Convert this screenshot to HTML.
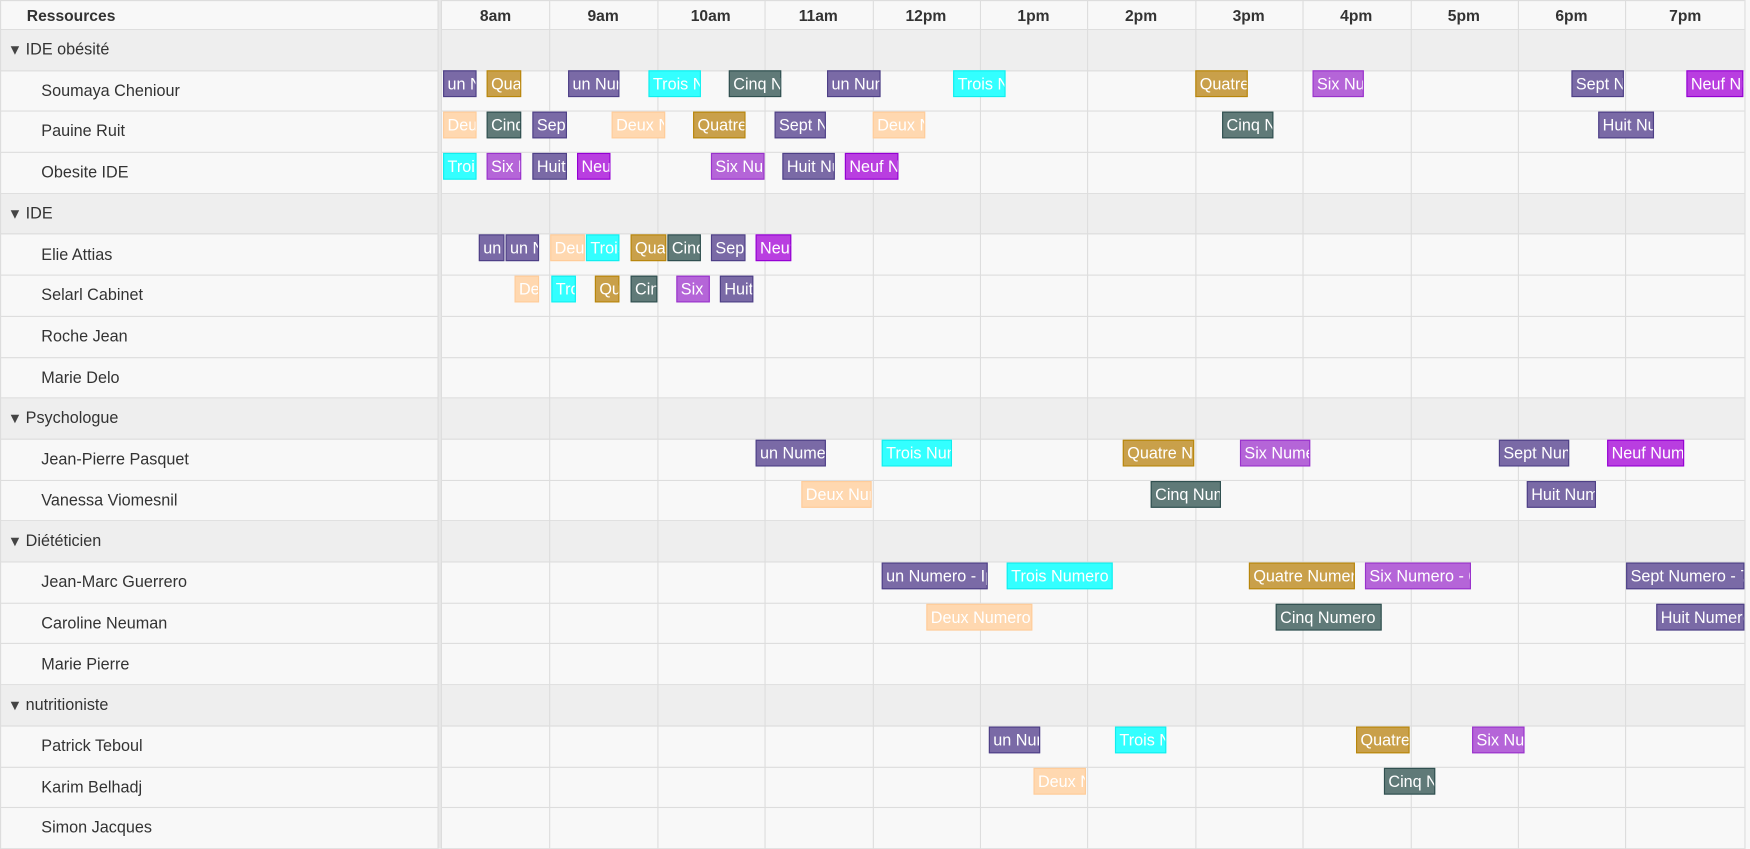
<!DOCTYPE html>
<html><head><meta charset="utf-8"><style>
html,body{margin:0;padding:0;background:#f8f8f8;width:1750px;height:849px;overflow:hidden}
#w{position:absolute;left:0;top:0;width:1568px;height:761px;transform:scale(1.11607);transform-origin:0 0;font-family:"Liberation Sans",Arial,sans-serif;color:#333}
.r{position:absolute;left:0;width:1563px;height:36.7px;border-bottom:1px solid #ddd;box-sizing:border-box}
.g{background:#eee}
.lt{position:absolute;font-size:14.5px;line-height:36px}
.tri{position:absolute;left:7px;font-size:13px;line-height:36px;color:#444}
.vl{position:absolute;top:0;width:1px;height:761px;background:#ddd}
.h{position:absolute;top:0;font-weight:bold;font-size:14px;line-height:28px;text-align:center;width:96px}
.e{position:absolute;height:24px;box-sizing:border-box;border:1px solid;color:#fff;overflow:hidden;white-space:nowrap;font-size:14.5px;line-height:24px;padding-left:3px}
.u{background:#7a6aa6;border-color:#4d3f86}
.d{background:#ffd8b0;border-color:#ffcc99}
.t{background:#3ff;border-color:#1ee}
.q{background:#c9a04a;border-color:#b8860b}
.c{background:#607a78;border-color:#2f4f4f}
.s{background:#b565d8;border-color:#9932cc}
.n{background:#b93ee0;border-color:#9400d3}
</style></head><body><div id="w">
<div style="position:absolute;left:0;top:0;width:1563px;height:27px;border-top:1px solid #ddd;border-bottom:1px solid #ddd;box-sizing:border-box"></div>
<div class="r g" style="top:27px"></div>
<div class="r" style="top:63.7px"></div>
<div class="r" style="top:100.4px"></div>
<div class="r" style="top:137.1px"></div>
<div class="r g" style="top:173.8px"></div>
<div class="r" style="top:210.5px"></div>
<div class="r" style="top:247.2px"></div>
<div class="r" style="top:283.9px"></div>
<div class="r" style="top:320.6px"></div>
<div class="r g" style="top:357.3px"></div>
<div class="r" style="top:394px"></div>
<div class="r" style="top:430.7px"></div>
<div class="r g" style="top:467.4px"></div>
<div class="r" style="top:504.1px"></div>
<div class="r" style="top:540.8px"></div>
<div class="r" style="top:577.5px"></div>
<div class="r g" style="top:614.2px"></div>
<div class="r" style="top:650.9px"></div>
<div class="r" style="top:687.6px"></div>
<div class="r" style="top:724.3px"></div>
<div style="position:absolute;left:392px;top:0;width:4px;height:761px;background:#e8e8e8;border-left:1px solid #ddd;border-right:1px solid #ddd;box-sizing:border-box"></div>
<div style="position:absolute;left:0;top:0;width:1px;height:761px;background:#ddd"></div>
<div style="position:absolute;left:1563px;top:0;width:1px;height:761px;background:#ddd"></div>
<div class="vl" style="left:492.4px"></div><div class="vl" style="left:588.8px"></div><div class="vl" style="left:685.2px"></div><div class="vl" style="left:781.6px"></div><div class="vl" style="left:878px"></div><div class="vl" style="left:974.4px"></div><div class="vl" style="left:1070.8px"></div><div class="vl" style="left:1167.2px"></div><div class="vl" style="left:1263.6px"></div><div class="vl" style="left:1360px"></div><div class="vl" style="left:1456.4px"></div>
<div class="h" style="left:24px;width:auto;text-align:left">Ressources</div>
<div class="h" style="left:396px">8am</div><div class="h" style="left:492.4px">9am</div><div class="h" style="left:588.8px">10am</div><div class="h" style="left:685.2px">11am</div><div class="h" style="left:781.6px">12pm</div><div class="h" style="left:878px">1pm</div><div class="h" style="left:974.4px">2pm</div><div class="h" style="left:1070.8px">3pm</div><div class="h" style="left:1167.2px">4pm</div><div class="h" style="left:1263.6px">5pm</div><div class="h" style="left:1360px">6pm</div><div class="h" style="left:1462px">7pm</div>
<div class="tri" style="top:27px">▼</div><div class="lt" style="left:23px;top:27px">IDE obésité</div>
<div class="lt" style="left:37px;top:63.7px">Soumaya Cheniour</div>
<div class="lt" style="left:37px;top:100.4px">Pauine Ruit</div>
<div class="lt" style="left:37px;top:137.1px">Obesite IDE</div>
<div class="tri" style="top:173.8px">▼</div><div class="lt" style="left:23px;top:173.8px">IDE</div>
<div class="lt" style="left:37px;top:210.5px">Elie Attias</div>
<div class="lt" style="left:37px;top:247.2px">Selarl Cabinet</div>
<div class="lt" style="left:37px;top:283.9px">Roche Jean</div>
<div class="lt" style="left:37px;top:320.6px">Marie Delo</div>
<div class="tri" style="top:357.3px">▼</div><div class="lt" style="left:23px;top:357.3px">Psychologue</div>
<div class="lt" style="left:37px;top:394px">Jean-Pierre Pasquet</div>
<div class="lt" style="left:37px;top:430.7px">Vanessa Viomesnil</div>
<div class="tri" style="top:467.4px">▼</div><div class="lt" style="left:23px;top:467.4px">Diététicien</div>
<div class="lt" style="left:37px;top:504.1px">Jean-Marc Guerrero</div>
<div class="lt" style="left:37px;top:540.8px">Caroline Neuman</div>
<div class="lt" style="left:37px;top:577.5px">Marie Pierre</div>
<div class="tri" style="top:614.2px">▼</div><div class="lt" style="left:23px;top:614.2px">nutritioniste</div>
<div class="lt" style="left:37px;top:650.9px">Patrick Teboul</div>
<div class="lt" style="left:37px;top:687.6px">Karim Belhadj</div>
<div class="lt" style="left:37px;top:724.3px">Simon Jacques</div>
<div class="e u" style="top:63px;left:397px;width:30px">un Numero - 1</div>
<div class="e q" style="top:63px;left:436px;width:31px">Quatre Numero</div>
<div class="e u" style="top:63px;left:509px;width:46px">un Numero - 1</div>
<div class="e t" style="top:63px;left:581px;width:47px">Trois Numero</div>
<div class="e c" style="top:63px;left:653px;width:47px">Cinq Numero</div>
<div class="e u" style="top:63px;left:741px;width:48px">un Numero - 1</div>
<div class="e t" style="top:63px;left:854px;width:47px">Trois Numero</div>
<div class="e q" style="top:63px;left:1071px;width:47px">Quatre Numero</div>
<div class="e s" style="top:63px;left:1176px;width:46px">Six Numero</div>
<div class="e u" style="top:63px;left:1408px;width:47px">Sept Numero</div>
<div class="e n" style="top:63px;left:1511px;width:51px">Neuf Numero</div>
<div class="e d" style="top:100px;left:397px;width:30px">Deux Numero</div>
<div class="e c" style="top:100px;left:436px;width:31px">Cinq Numero</div>
<div class="e u" style="top:100px;left:477px;width:31px">Sept Numero</div>
<div class="e d" style="top:100px;left:548px;width:48px">Deux Numero</div>
<div class="e q" style="top:100px;left:621px;width:47px">Quatre Numero</div>
<div class="e u" style="top:100px;left:694px;width:46px">Sept Numero</div>
<div class="e d" style="top:100px;left:782px;width:47px">Deux Numero</div>
<div class="e c" style="top:100px;left:1095px;width:46px">Cinq Numero</div>
<div class="e u" style="top:100px;left:1432px;width:50px">Huit Numero</div>
<div class="e t" style="top:136.5px;left:397px;width:30px">Trois Numero</div>
<div class="e s" style="top:136.5px;left:436px;width:31px">Six Numero</div>
<div class="e u" style="top:136.5px;left:477px;width:31px">Huit Numero</div>
<div class="e n" style="top:136.5px;left:517px;width:30px">Neuf Numero</div>
<div class="e s" style="top:136.5px;left:637px;width:48px">Six Numero</div>
<div class="e u" style="top:136.5px;left:701px;width:47px">Huit Numero</div>
<div class="e n" style="top:136.5px;left:757px;width:48px">Neuf Numero</div>
<div class="e u" style="top:210px;left:429px;width:23px">un Numero</div>
<div class="e u" style="top:210px;left:453px;width:30px">un Numero</div>
<div class="e d" style="top:210px;left:493px;width:31px">Deux Numero</div>
<div class="e t" style="top:210px;left:525px;width:30px">Trois Numero</div>
<div class="e q" style="top:210px;left:565px;width:32px">Quatre Numero</div>
<div class="e c" style="top:210px;left:598px;width:30px">Cinq Numero</div>
<div class="e u" style="top:210px;left:637px;width:31px">Sept Numero</div>
<div class="e n" style="top:210px;left:677px;width:32px">Neuf Numero</div>
<div class="e d" style="top:247px;left:461px;width:22px">Deux</div>
<div class="e t" style="top:247px;left:494px;width:22px">Trois</div>
<div class="e q" style="top:247px;left:533px;width:22px">Quatre</div>
<div class="e c" style="top:247px;left:565px;width:24px">Cinq</div>
<div class="e s" style="top:247px;left:606px;width:30px">Six Numero</div>
<div class="e u" style="top:247px;left:645px;width:30px">Huit Numero</div>
<div class="e u" style="top:394px;left:677px;width:63px">un Numero - 1</div>
<div class="e t" style="top:394px;left:790px;width:63px">Trois Numero</div>
<div class="e q" style="top:394px;left:1006px;width:64px">Quatre Numero</div>
<div class="e s" style="top:394px;left:1111px;width:63px">Six Numero</div>
<div class="e u" style="top:394px;left:1343px;width:63px">Sept Numero</div>
<div class="e n" style="top:394px;left:1440px;width:69px">Neuf Numero</div>
<div class="e d" style="top:430.5px;left:718px;width:63px">Deux Numero</div>
<div class="e c" style="top:430.5px;left:1031px;width:63px">Cinq Numero</div>
<div class="e u" style="top:430.5px;left:1368px;width:62px">Huit Numero</div>
<div class="e u" style="top:504px;left:790px;width:95px">un Numero - Ipsum</div>
<div class="e t" style="top:504px;left:902px;width:95px">Trois Numero - 3</div>
<div class="e q" style="top:504px;left:1119px;width:95px">Quatre Numero - 4</div>
<div class="e s" style="top:504px;left:1223px;width:95px">Six Numero - 6</div>
<div class="e u" style="top:504px;left:1457px;width:106px">Sept Numero - 7</div>
<div class="e d" style="top:540.5px;left:830px;width:95px">Deux Numero - 2</div>
<div class="e c" style="top:540.5px;left:1143px;width:95px">Cinq Numero - 5</div>
<div class="e u" style="top:540.5px;left:1484px;width:79px">Huit Numero - 8</div>
<div class="e u" style="top:650.5px;left:886px;width:46px">un Numero</div>
<div class="e t" style="top:650.5px;left:999px;width:46px">Trois Numero</div>
<div class="e q" style="top:650.5px;left:1215px;width:48px">Quatre Numero</div>
<div class="e s" style="top:650.5px;left:1319px;width:47px">Six Numero</div>
<div class="e d" style="top:687.5px;left:926px;width:47px">Deux Numero</div>
<div class="e c" style="top:687.5px;left:1240px;width:46px">Cinq Numero</div>
</div></body></html>
